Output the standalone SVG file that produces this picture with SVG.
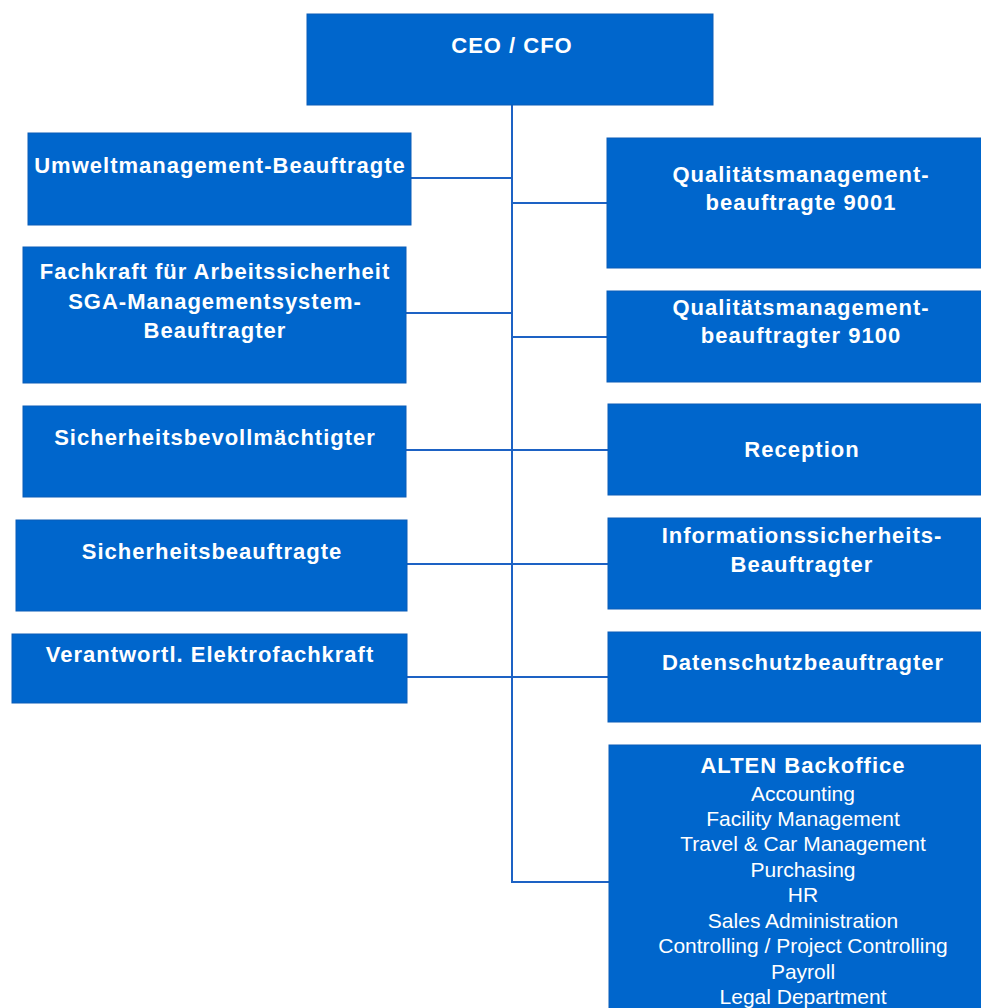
<svg xmlns="http://www.w3.org/2000/svg" width="981" height="1008" viewBox="0 0 981 1008">
<style>
.box{fill:#0066cc;stroke:#0a5cb8;stroke-width:1}
.b{font-family:"Liberation Sans",Arial,sans-serif;font-weight:bold;font-size:22px;letter-spacing:1px;fill:#fff;text-anchor:middle}
.r{font-family:"Liberation Sans",Arial,sans-serif;font-size:21px;fill:#fff;text-anchor:middle}
.c{fill:none;stroke:#1d62c4;stroke-width:2}
</style>
<rect width="981" height="1008" fill="#fff"/>
<g id="connectors">
<path class="c" d="M512 105 V882 H609"/>
<path class="c" d="M411 178 H512"/>
<path class="c" d="M512 203 H607"/>
<path class="c" d="M406 313 H512"/>
<path class="c" d="M512 337 H607"/>
<path class="c" d="M406 450 H608"/>
<path class="c" d="M407 564 H608"/>
<path class="c" d="M407 677 H608"/>
</g>
<g id="ceo"><rect class="box" x="307" y="14" width="406" height="91"/><text class="b" x="512" y="53">CEO / CFO</text></g>
<g id="umwelt"><rect class="box" x="28" y="133" width="383" height="92"/><text class="b" x="220" y="173">Umweltmanagement-Beauftragte</text></g>
<g id="fachkraft"><rect class="box" x="23" y="247" width="383" height="136"/><text class="b" x="215" y="279">Fachkraft für Arbeitssicherheit</text><text class="b" x="215" y="309">SGA-Managementsystem-</text><text class="b" x="215" y="338">Beauftragter</text></g>
<g id="sicherheitsbevollmaechtigter"><rect class="box" x="23" y="406" width="383" height="91"/><text class="b" x="215" y="445">Sicherheitsbevollmächtigter</text></g>
<g id="sicherheitsbeauftragte"><rect class="box" x="16" y="520" width="391" height="91"/><text class="b" x="212" y="559">Sicherheitsbeauftragte</text></g>
<g id="elektrofachkraft"><rect class="box" x="12" y="634" width="395" height="69"/><text class="b" x="210" y="662">Verantwortl. Elektrofachkraft</text></g>
<g id="qm9001"><rect class="box" x="607" y="138" width="390" height="130"/><text class="b" x="801" y="182">Qualitätsmanagement-</text><text class="b" x="801" y="210">beauftragte 9001</text></g>
<g id="qm9100"><rect class="box" x="607" y="291" width="390" height="91"/><text class="b" x="801" y="315">Qualitätsmanagement-</text><text class="b" x="801" y="343">beauftragter 9100</text></g>
<g id="reception"><rect class="box" x="608" y="404" width="390" height="91"/><text class="b" x="802" y="457">Reception</text></g>
<g id="infosec"><rect class="box" x="608" y="518" width="390" height="91"/><text class="b" x="802" y="543">Informationssicherheits-</text><text class="b" x="802" y="572">Beauftragter</text></g>
<g id="datenschutz"><rect class="box" x="608" y="632" width="390" height="90"/><text class="b" x="803" y="670">Datenschutzbeauftragter</text></g>
<g id="backoffice"><rect class="box" x="609" y="745" width="390" height="280"/>
<text class="b" x="803" y="773">ALTEN Backoffice</text>
<text class="r" x="803" y="801">Accounting</text>
<text class="r" x="803" y="826">Facility Management</text>
<text class="r" x="803" y="851">Travel &amp; Car Management</text>
<text class="r" x="803" y="877">Purchasing</text>
<text class="r" x="803" y="902">HR</text>
<text class="r" x="803" y="928">Sales Administration</text>
<text class="r" x="803" y="953">Controlling / Project Controlling</text>
<text class="r" x="803" y="979">Payroll</text>
<text class="r" x="803" y="1004">Legal Department</text>
</g>
</svg>
